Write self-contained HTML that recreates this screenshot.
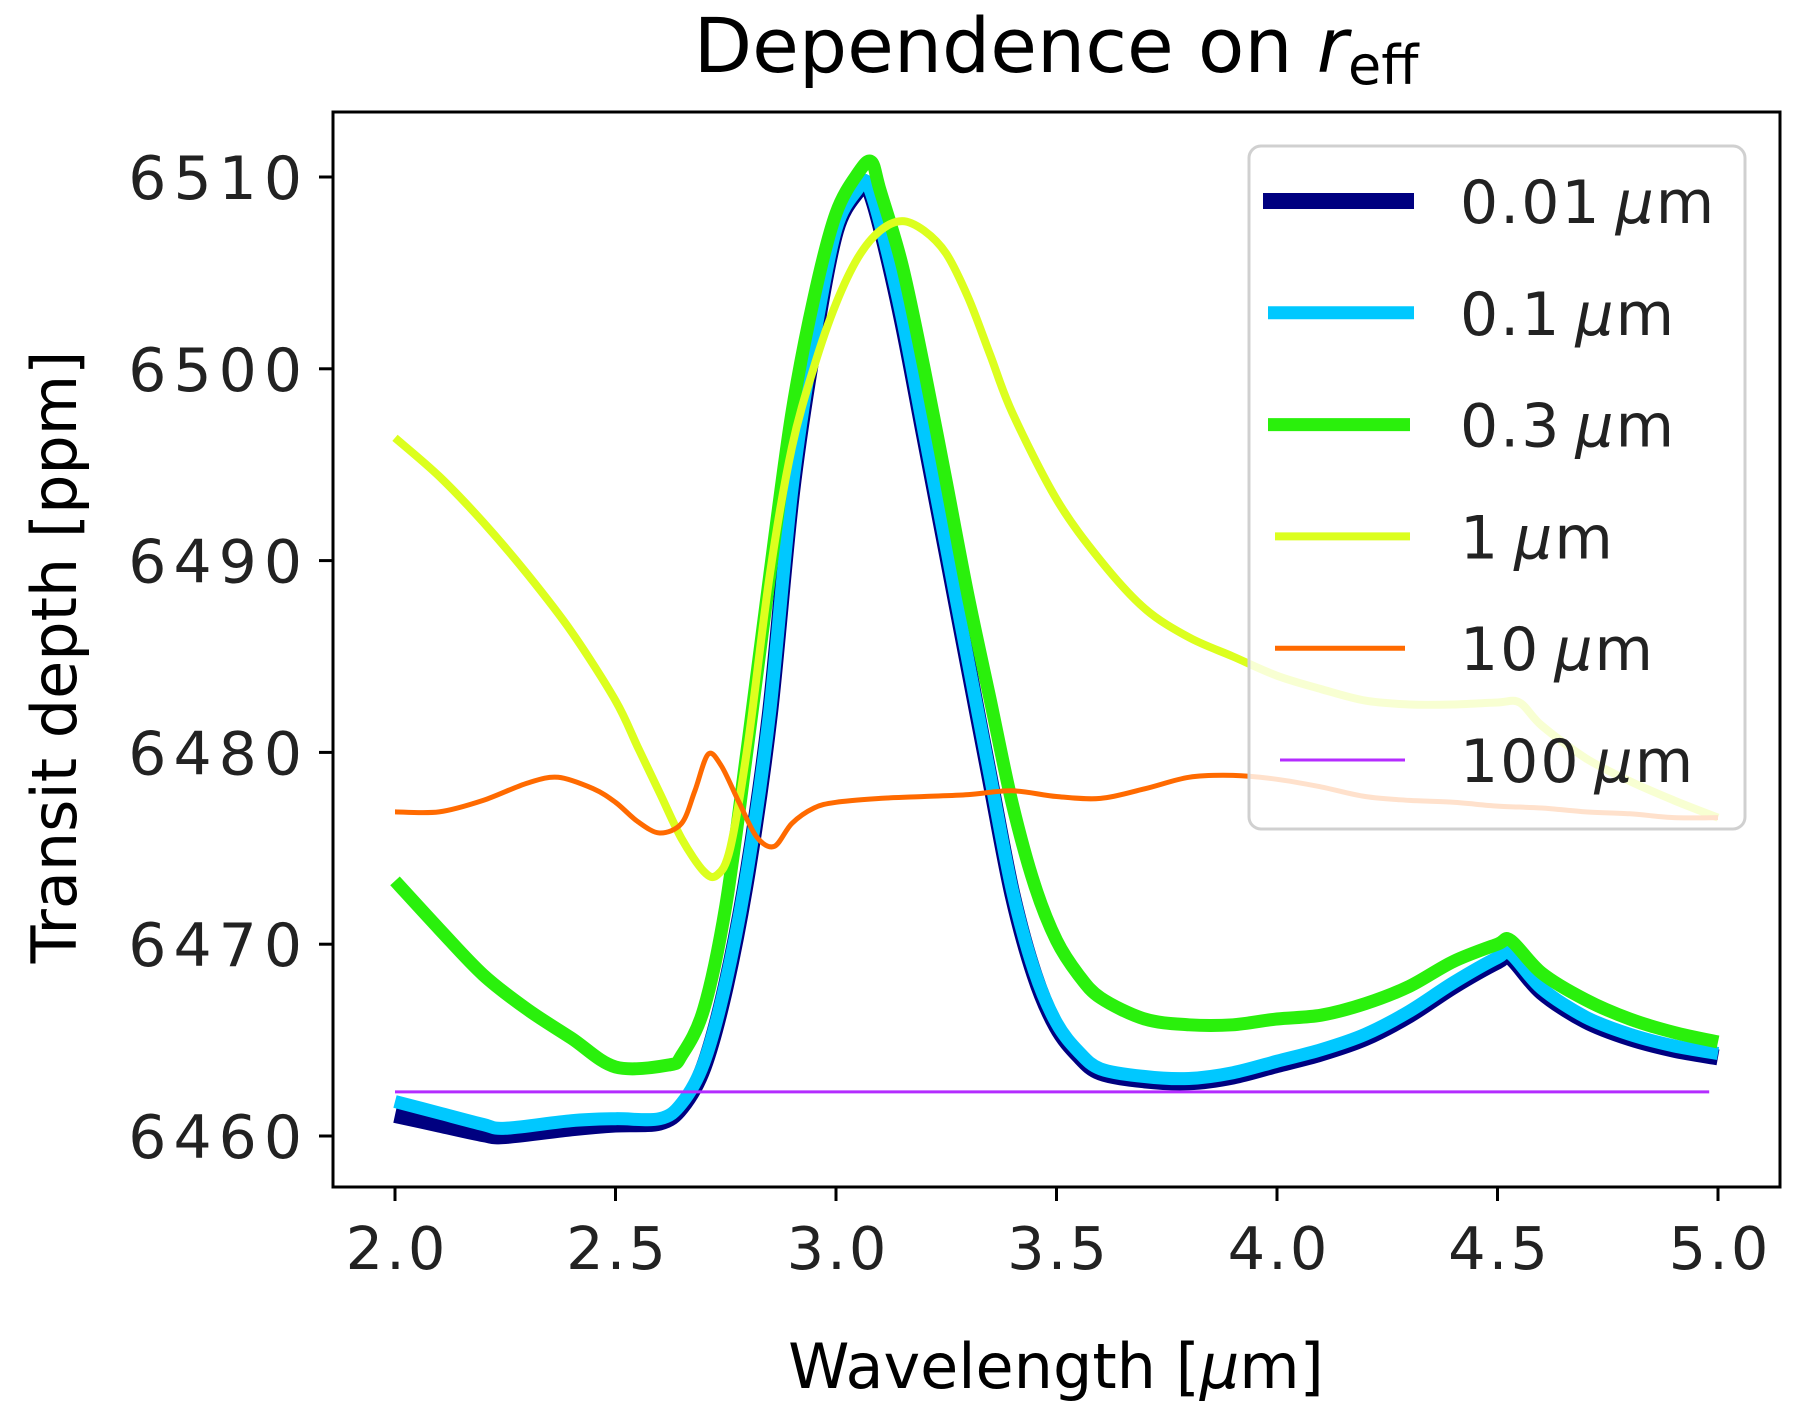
<!DOCTYPE html>
<html><head><meta charset="utf-8"><style>
html,body{margin:0;padding:0;background:#fff;}
svg{display:block;font-family:"DejaVu Sans","Liberation Sans",sans-serif;}
</style></head><body>
<svg id="chart" width="1800" height="1425" viewBox="0 0 1800 1425">
<text x="1056" y="72" font-size="76" text-anchor="middle" fill="#000">Dependence on <tspan font-style="italic">r</tspan><tspan font-size="54" dy="12">eff</tspan></text>
<g id="plot"></g>
<g id="axes"></g>
<g id="legend"></g>
<text x="1056" y="1388" font-size="62" text-anchor="middle" fill="#000">Wavelength [<tspan font-style="italic">μ</tspan>m]</text>
<text transform="translate(76,657) rotate(-90)" font-size="62" text-anchor="middle" fill="#000">Transit depth [ppm]</text>
</svg>
<script>
const xTicks=[2.0,2.5,3.0,3.5,4.0,4.5,5.0];
const xTickLabels=["2.0","2.5","3.0","3.5","4.0","4.5","5.0"];
const yTicks=[6460,6470,6480,6490,6500,6510];
const seriesNames=["0.01 μm","0.1 μm","0.3 μm","1 μm","10 μm","100 μm"];
const wlA=[2.0,2.1,2.2,2.25,2.4,2.5,2.6,2.65,2.7,2.75,2.8,2.85,2.9,2.95,3.0,3.05,3.07,3.1,3.15,3.2,3.25,3.3,3.35,3.4,3.45,3.5,3.55,3.6,3.7,3.8,3.9,4.0,4.1,4.2,4.3,4.4,4.5,4.53,4.6,4.7,4.8,4.9,5.0];
const r001=[6461.1,6460.6,6460.1,6460.0,6460.4,6460.6,6460.7,6461.5,6463.6,6467.8,6473.8,6482,6493.5,6501.3,6507.2,6509.3,6509.6,6507.5,6502.5,6496.5,6490.5,6484.5,6478.5,6472.6,6468.4,6465.7,6464.2,6463.3,6462.9,6462.8,6463.1,6463.7,6464.3,6465.1,6466.3,6467.8,6469.1,6469.3,6467.5,6466,6465.1,6464.5,6464.1];
const r01=[6461.8,6461.2,6460.6,6460.4,6460.8,6460.9,6460.9,6461.7,6463.8,6468,6474,6482.2,6493.7,6501.5,6507.3,6509.4,6509.7,6507.6,6502.7,6496.7,6490.7,6484.7,6478.7,6472.8,6468.6,6465.9,6464.4,6463.5,6463.1,6463,6463.3,6463.9,6464.5,6465.3,6466.5,6468,6469.3,6469.5,6467.7,6466.2,6465.3,6464.7,6464.3];
const wlB=[2.0,2.1,2.2,2.3,2.4,2.5,2.62,2.65,2.7,2.75,2.8,2.85,2.9,2.95,3.0,3.05,3.08,3.1,3.15,3.2,3.25,3.3,3.35,3.4,3.45,3.5,3.55,3.6,3.7,3.8,3.9,4.0,4.1,4.2,4.3,4.4,4.5,4.53,4.6,4.7,4.8,4.9,5.0];
const r03=[6473.3,6470.8,6468.4,6466.6,6465.1,6463.6,6463.7,6464.2,6466.6,6472,6480.4,6489.3,6497.7,6503.7,6508.1,6510.2,6510.8,6509.3,6505.4,6500,6494.1,6488.1,6482.7,6477.3,6473.1,6470.2,6468.4,6467.2,6466.1,6465.8,6465.8,6466.1,6466.3,6466.9,6467.8,6469.1,6470,6470.2,6468.5,6467.1,6466.1,6465.4,6464.9];
const wlC=[2.0,2.1,2.2,2.3,2.4,2.5,2.55,2.6,2.65,2.7,2.73,2.76,2.8,2.85,2.9,2.95,3.0,3.05,3.1,3.15,3.2,3.25,3.3,3.35,3.4,3.5,3.6,3.7,3.8,3.9,4.0,4.1,4.2,4.3,4.4,4.5,4.55,4.6,4.7,4.8,4.9,5.0];
const r1=[6496.4,6494.4,6492,6489.3,6486.3,6482.7,6480.3,6477.9,6475.5,6473.8,6473.6,6475,6480.4,6489.3,6495.9,6500.1,6503.4,6505.8,6507.2,6507.7,6507.2,6506,6503.7,6500.7,6497.7,6493.2,6490,6487.5,6486,6485,6484,6483.3,6482.7,6482.5,6482.5,6482.6,6482.6,6481.4,6479.7,6478.5,6477.5,6476.6];
const wlD=[2.0,2.1,2.2,2.3,2.37,2.45,2.5,2.55,2.6,2.65,2.68,2.71,2.74,2.78,2.82,2.86,2.9,2.95,3.0,3.1,3.2,3.3,3.4,3.5,3.6,3.7,3.8,3.9,4.0,4.1,4.2,4.3,4.4,4.5,4.6,4.7,4.8,4.9,5.0];
const r10=[6476.9,6476.9,6477.5,6478.4,6478.7,6478.1,6477.4,6476.4,6475.8,6476.3,6478,6479.9,6479.3,6477.4,6475.6,6475.1,6476.3,6477.1,6477.4,6477.6,6477.7,6477.8,6478,6477.7,6477.6,6478.1,6478.7,6478.8,6478.6,6478.2,6477.7,6477.5,6477.4,6477.2,6477.1,6476.9,6476.8,6476.6,6476.6];
const wlE=[2.0,3.0,4.0,4.98];
const r100=[6462.3,6462.3,6462.3,6462.3];

const NS="http://www.w3.org/2000/svg";
const L=333,R=1780,T=112,B=1187;
function xs(v){return 395+(v-2.0)*441;}
function ys(v){return 177+(6510-v)*19.18;}
function mk(tag,attrs,parent){const e=document.createElementNS(NS,tag);for(const k in attrs)e.setAttribute(k,attrs[k]);parent.appendChild(e);return e;}
function smoothPath(P){
  let d="M"+P[0][0].toFixed(1)+","+P[0][1].toFixed(1);
  for(let i=0;i<P.length-1;i++){
    const p0=P[Math.max(0,i-1)],p1=P[i],p2=P[i+1],p3=P[Math.min(P.length-1,i+2)];
    const t=0.16;
    const c1=[p1[0]+(p2[0]-p0[0])*t,p1[1]+(p2[1]-p0[1])*t];
    const c2=[p2[0]-(p3[0]-p1[0])*t,p2[1]-(p3[1]-p1[1])*t];
    d+=" C"+c1[0].toFixed(1)+","+c1[1].toFixed(1)+" "+c2[0].toFixed(1)+","+c2[1].toFixed(1)+" "+p2[0].toFixed(1)+","+p2[1].toFixed(1);
  }
  return d;
}
const plot=document.getElementById('plot');
const axes=document.getElementById('axes');
const legend=document.getElementById('legend');
const colors=["#000080","#00c8ff","#2af00c","#dcff1e","#ff6a00","#b42cff"];
const widths=[16,13,13,8,5,3];
const xsets=[wlA,wlA,wlB,wlC,wlD,wlE];
const ysets=[r001,r01,r03,r1,r10,r100];
const keys=["0-01","0-1","0-3","1","10","100"];
for(let i=0;i<6;i++){
  const P=xsets[i].map((x,j)=>[xs(x),ys(ysets[i][j])]);
  const p=mk('path',{d:smoothPath(P),fill:'none',stroke:colors[i],'stroke-width':widths[i],'stroke-linejoin':'round','stroke-linecap':'butt'},plot);
  
  
}
const fr=mk('rect',{x:L,y:T,width:R-L,height:B-T,fill:'none',stroke:'#000','stroke-width':3},axes);


xTicks.forEach((v,i)=>{
  const t=mk('line',{x1:xs(v),x2:xs(v),y1:B,y2:B+14,stroke:'#000','stroke-width':3},axes);
  
  
  const tx=mk('text',{x:xs(v)+2,y:B+82,'font-size':59,'letter-spacing':3,'text-anchor':'middle',fill:'#222'},axes);
  tx.textContent=xTickLabels[i];
  
  
});
yTicks.forEach(v=>{
  const t=mk('line',{x1:L-14,x2:L,y1:ys(v),y2:ys(v),stroke:'#000','stroke-width':3},axes);
  
  
  const tx=mk('text',{x:L-24,y:ys(v)+22,'font-size':60,'letter-spacing':7,'text-anchor':'end',fill:'#222'},axes);
  tx.textContent=String(v);
  
  
});
const lb=mk('rect',{x:1249,y:146,width:496,height:683,rx:12,fill:'rgba(255,255,255,0.8)',stroke:'#d0d0d0','stroke-width':3},legend);


const hx1=[1263,1268,1268,1275,1275,1280],hx2=[1414,1414,1410,1410,1405,1405];
for(let i=0;i<6;i++){
  const y=201+i*111.8;
  const g=mk('g',{},legend);
  
  
  mk('line',{x1:hx1[i],x2:hx2[i],y1:y,y2:y,stroke:colors[i],'stroke-width':widths[i]},g);
  const parts=seriesNames[i].split(" ");
  const t=mk('text',{x:1460,y:y+22,'font-size':60,'letter-spacing':2,fill:'#222'},g);
  t.textContent=parts[0]+"\u2009";
  const ts=mk('tspan',{'font-style':'italic'},t);ts.textContent="μ";
  const ts2=mk('tspan',{},t);ts2.textContent="m";
}
</script>
</body></html>
